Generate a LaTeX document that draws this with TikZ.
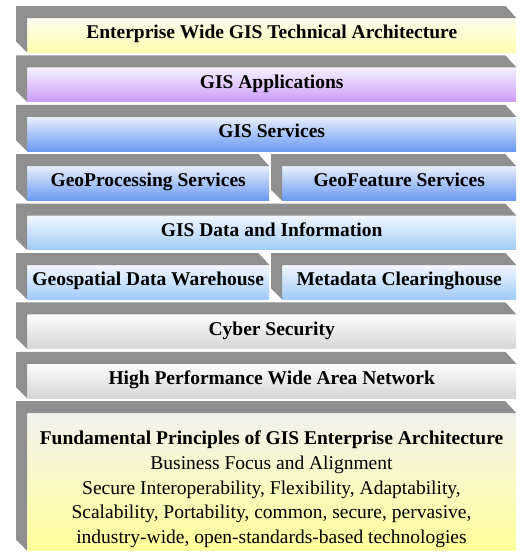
\documentclass[tikz,border=0pt]{standalone}
\usepackage{fontspec}
\setmainfont{Liberation Serif}
\usetikzlibrary{calc}

\definecolor{sidegray}{HTML}{8F8F8F}
\definecolor{entTop}{HTML}{FCFCEE}
\definecolor{entBot}{HTML}{FFFFB0}
\definecolor{appTop}{HTML}{F5F1FC}
\definecolor{appBot}{HTML}{CC9CFA}
\definecolor{srvTop}{HTML}{E6EEFC}
\definecolor{srvBot}{HTML}{6A9AF2}
\definecolor{datTop}{HTML}{F2F7FE}
\definecolor{datBot}{HTML}{A0CBF8}
\definecolor{netTop}{HTML}{FCFCFC}
\definecolor{netBot}{HTML}{D6D6D6}
\definecolor{funTop}{HTML}{F2F2EE}
\definecolor{funBot}{HTML}{FFFF99}

\begin{document}
\begin{tikzpicture}[x=1pt,y=-1pt]
\tikzstyle{layer}=[rectangle,anchor=north west,inner sep=0pt,minimum height=34pt,
  text height=0.68em,text depth=0pt,font=\fontsize{19.5}{22}\selectfont\bfseries]
\tikzstyle{full}=[layer,minimum width=489pt]
\tikzstyle{half}=[layer]
\tikzstyle{ent}=[top color=entTop,bottom color=entBot]
\tikzstyle{app}=[top color=appTop,bottom color=appBot]
\tikzstyle{srv}=[top color=srvTop,bottom color=srvBot]
\tikzstyle{dat}=[top color=datTop,bottom color=datBot]
\tikzstyle{net}=[top color=netTop,bottom color=netBot]
\tikzstyle{side}=[fill=sidegray]

\useasboundingbox (0,0) rectangle (522,552);

\node[full,ent] (ent)  at (27,18)    {Enterprise Wide GIS Technical Architecture};
\node[full,app] (app)  at (27,67.4)  {GIS Applications};
\node[full,srv] (srv)  at (27,116.8) {GIS Services};
\node[half,srv,minimum width=242pt] (proc) at (27,166.2)  {GeoProcessing Services};
\node[half,srv,minimum width=234pt] (feat) at (282,166.2) {GeoFeature Services};
\node[full,dat] (dat)  at (27,215.6) {GIS Data and Information};
\node[half,dat,minimum width=242pt] (wh)   at (27,265)    {Geospatial Data Warehouse};
\node[half,dat,minimum width=234pt] (meta) at (282,265)   {Metadata Clearinghouse};
\node[full,net] (cyb)  at (27,314.4) {Cyber Security};
\node[full,net] (wan)  at (27,363.8) {High Performance Wide Area Network};

\node[rectangle,anchor=north west,inner sep=0pt,minimum width=489pt,
  top color=funTop,bottom color=funBot,minimum height=137pt] (fun) at (27,413.2) {};
\node[font=\fontsize{19.5}{24.6}\selectfont,align=center,inner sep=0pt,anchor=north]
  (funtxt) at (271.5,431)
  {\textbf{Fundamental Principles of GIS Enterprise Architecture}\\
   Business Focus and Alignment\\
   Secure Interoperability, Flexibility, Adaptability,\\
   Scalability, Portability, common, secure, pervasive,\\
   industry-wide, open-standards-based technologies};

% gray top and left faces
\foreach \n in {ent,app,srv,proc,feat,dat,wh,meta,cyb,wan,fun}
  \fill[side] (\n.south west) -- ($(\n.south west)+(-11,-11)$)
    -- ($(\n.north west)+(-11,-12)$) -- ($(\n.north east)+(-11,-12)$)
    -- (\n.north east) -- (\n.north west) -- cycle;

\end{tikzpicture}
\end{document}
